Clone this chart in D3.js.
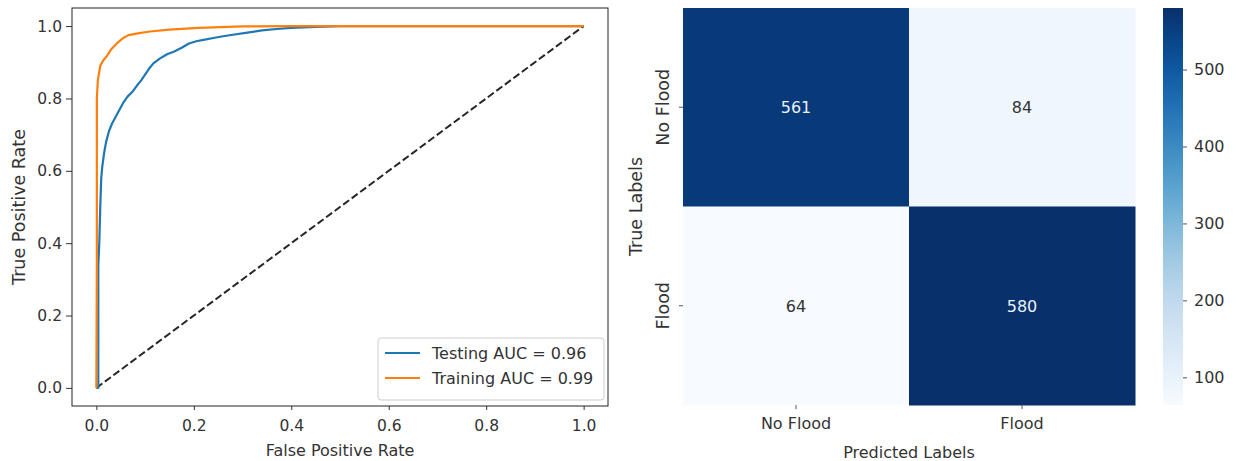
<!DOCTYPE html>
<html><head><meta charset="utf-8">
<script src="https://cdn.jsdelivr.net/npm/d3@7"></script>
<style>
body{margin:0;background:#fff;}
svg{display:block;font-family:"DejaVu Sans",sans-serif;}
</style></head>
<body><svg id="c" width="1238" height="461"></svg>
<script>
// ROC data
const fprTest = [0,0.004,0.004,0.006,0.008,0.010,0.012,0.016,0.020,0.026,0.032,0.040,0.048,0.056,0.064,0.075,0.083,0.092,0.100,0.108,0.117,0.130,0.145,0.160,0.175,0.190,0.205,0.220,0.240,0.260,0.280,0.310,0.340,0.370,0.400,0.450,0.500,1.0];
const tprTest = [0,0.000,0.340,0.400,0.500,0.580,0.610,0.650,0.680,0.710,0.730,0.750,0.770,0.790,0.805,0.820,0.835,0.850,0.866,0.882,0.897,0.910,0.922,0.930,0.940,0.952,0.958,0.962,0.967,0.972,0.976,0.982,0.988,0.992,0.995,0.998,1.000,1.0];
const fprTrain = [0,0.001,0.001,0.003,0.008,0.014,0.022,0.030,0.042,0.055,0.066,0.085,0.110,0.150,0.210,0.300,0.400,1.0];
const tprTrain = [0,0.350,0.800,0.850,0.890,0.905,0.918,0.935,0.952,0.967,0.975,0.980,0.985,0.990,0.995,0.999,1.000,1.0];
const seriesNames = ["Testing AUC = 0.96","Training AUC = 0.99"];
const seriesColors = ["#1f77b4","#ff7f0e"];
const rocTicks = [0,0.2,0.4,0.6,0.8,1.0];

// Confusion matrix
const cmLabels = ["No Flood","Flood"];
const cmValues = [[561,84],[64,580]];
const cbTicks = [100,200,300,400,500];

const svg = d3.select("#c");
const FT = 15.5, FH = 16, FV = 17.5;

// ---------- ROC ----------
const L = {x0:72, x1:608, y0:8, y1:406};
const x = d3.scaleLinear().domain([-0.05,1.05]).range([L.x0,L.x1]);
const y = d3.scaleLinear().domain([-0.05,1.05]).range([L.y1,L.y0]);
const g = svg.append("g");

const xAx = g.append("g").attr("transform",`translate(0,${L.y1})`)
  .call(d3.axisBottom(x).tickValues(rocTicks).tickFormat(d3.format(".1f")).tickSizeOuter(0).tickSize(4).tickPadding(10));
const yAx = g.append("g").attr("transform",`translate(${L.x0},0)`)
  .call(d3.axisLeft(y).tickValues(rocTicks).tickFormat(d3.format(".1f")).tickSizeOuter(0).tickSize(6).tickPadding(4));
[xAx,yAx].forEach(a=>{a.select(".domain").remove();a.selectAll("text").attr("font-size",FT).attr("fill","#333").attr("font-family","DejaVu Sans");a.selectAll("line").attr("stroke","#333");});

const line = d3.line().x(d=>x(d[0])).y(d=>y(d[1]));
g.append("path").datum([[0,0],[1,1]]).attr("d",line).attr("fill","none")
  .attr("stroke","#000").attr("stroke-width",2).attr("stroke-dasharray","7.4,3.2").attr("opacity",0.85);
g.append("path").datum(fprTest.map((v,i)=>[v,tprTest[i]])).attr("d",line)
  .attr("fill","none").attr("stroke",seriesColors[0]).attr("stroke-width",2.2).attr("stroke-linejoin","round");
g.append("path").datum(fprTrain.map((v,i)=>[v,tprTrain[i]])).attr("d",line)
  .attr("fill","none").attr("stroke",seriesColors[1]).attr("stroke-width",2.2).attr("stroke-linejoin","round");

g.append("rect").attr("x",L.x0).attr("y",L.y0).attr("width",L.x1-L.x0).attr("height",L.y1-L.y0)
  .attr("fill","none").attr("stroke","#222").attr("stroke-width",1);

g.append("text").attr("x",(L.x0+L.x1)/2).attr("y",456).attr("text-anchor","middle")
  .attr("font-size",FH).attr("fill","#333").text("False Positive Rate");
g.append("text").attr("transform",`translate(25,${(L.y0+L.y1)/2}) rotate(-90)`).attr("text-anchor","middle")
  .attr("font-size",FV).attr("fill","#333").text("True Positive Rate");

// legend
const lg = g.append("g");
lg.append("rect").attr("x",378).attr("y",338).attr("width",226).attr("height",62).attr("rx",3)
  .attr("fill","#fff").attr("fill-opacity",0.85).attr("stroke","#ccc");
seriesNames.forEach((n,i)=>{
  const yy = 353 + i*25;
  lg.append("line").attr("x1",385).attr("x2",420).attr("y1",yy).attr("y2",yy)
    .attr("stroke",seriesColors[i]).attr("stroke-width",2.2);
  lg.append("text").attr("x",432).attr("y",yy+6).attr("font-size",FH).attr("fill","#333").text(n);
});

// ---------- Heatmap ----------
const H = {x0:683, x1:1135, y0:8, y1:405};
const hx = d3.scaleBand().domain(cmLabels).range([H.x0,H.x1]);
const hy = d3.scaleBand().domain(cmLabels).range([H.y0,H.y1]);
const vmin = d3.min(cmValues.flat()), vmax = d3.max(cmValues.flat());
const color = d3.scaleSequential(d3.interpolateBlues).domain([vmin,vmax]);
const hg = svg.append("g");
cmValues.forEach((row,i)=>row.forEach((v,j)=>{
  hg.append("rect").attr("x",hx(cmLabels[j])).attr("y",hy(cmLabels[i]))
    .attr("width",hx.bandwidth()+0.5).attr("height",hy.bandwidth()+0.5).attr("fill",color(v));
  const lum = d3.lab(color(v)).l;
  hg.append("text").attr("x",hx(cmLabels[j])+hx.bandwidth()/2).attr("y",hy(cmLabels[i])+hy.bandwidth()/2+6)
    .attr("text-anchor","middle").attr("font-size",FH).attr("fill",lum<50?"#e8f1fb":"#333").text(v);
}));
const hxA = hg.append("g").attr("transform",`translate(0,${H.y1})`)
  .call(d3.axisBottom(hx).tickSize(4).tickPadding(9));
const hyA = hg.append("g").attr("transform",`translate(${H.x0},0)`)
  .call(d3.axisLeft(hy).tickSize(4).tickPadding(5));
[hxA,hyA].forEach(a=>{a.select(".domain").remove();a.selectAll("text").attr("font-size",FH).attr("fill","#333").attr("font-family","DejaVu Sans");a.selectAll("line").attr("stroke","#555");});
hyA.selectAll(".tick text").attr("text-anchor","middle").attr("x",0).attr("y",0).attr("dy",0)
  .attr("font-size",FV).attr("transform","translate(-14,0) rotate(-90)");

hg.append("text").attr("x",(H.x0+H.x1)/2).attr("y",458).attr("text-anchor","middle")
  .attr("font-size",FH).attr("fill","#333").text("Predicted Labels");
hg.append("text").attr("transform",`translate(642,${(H.y0+H.y1)/2}) rotate(-90)`).attr("text-anchor","middle")
  .attr("font-size",FV).attr("fill","#333").text("True Labels");

// ---------- Colorbar ----------
const C = {x0:1163, x1:1183, y0:8, y1:405};
const cy = d3.scaleLinear().domain([vmin,vmax]).range([C.y1,C.y0]);
const defs = svg.append("defs");
const grad = defs.append("linearGradient").attr("id","cb").attr("x1",0).attr("x2",0).attr("y1",1).attr("y2",0);
d3.range(0,1.0001,0.05).forEach(t=>grad.append("stop").attr("offset",t).attr("stop-color",d3.interpolateBlues(t)));
svg.append("rect").attr("x",C.x0).attr("y",C.y0).attr("width",C.x1-C.x0).attr("height",C.y1-C.y0).attr("fill","url(#cb)");
const cA = svg.append("g").attr("transform",`translate(${C.x1},0)`)
  .call(d3.axisRight(cy).tickValues(cbTicks).tickSize(4).tickPadding(7));
cA.select(".domain").remove();
cA.selectAll("text").attr("font-size",FH).attr("fill","#333").attr("font-family","DejaVu Sans");
cA.selectAll("line").attr("stroke","#555");
</script></body></html>
